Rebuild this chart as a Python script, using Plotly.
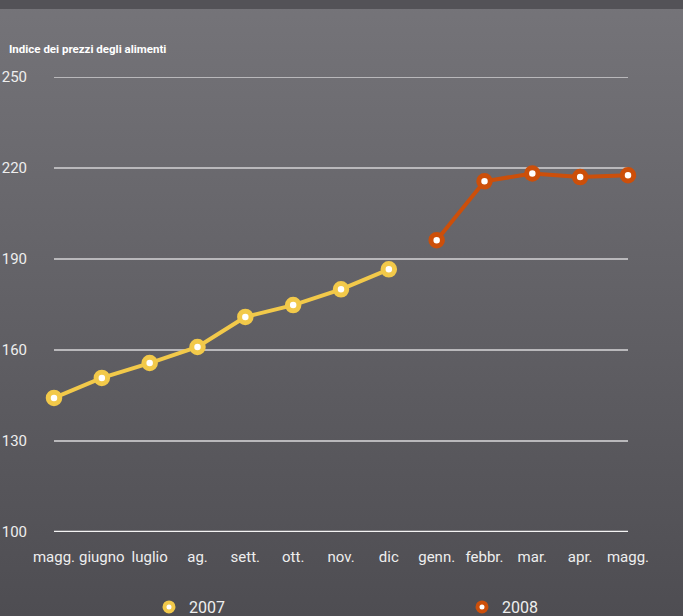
import base64
import plotly.graph_objects as go

months = ["magg.", "giugno", "luglio", "ag.", "sett.", "ott.", "nov.", "dic",
          "genn.", "febbr.", "mar.", "apr.", "magg."]
idx_2007 = [0, 1, 2, 3, 4, 5, 6, 7]
val_2007 = [144.2, 150.8, 155.7, 161.0, 170.9, 174.8, 180.0, 186.6]
idx_2008 = [8, 9, 10, 11, 12]
val_2008 = [196.2, 215.6, 218.2, 217.0, 217.6]
y_ticks = [100, 130, 160, 190, 220, 250]

YELLOW = "#f2c94a"
ORANGE = "#cc4f0a"
FONT = "Roboto, sans-serif"

W, H = 683, 616
L, R, T, B = 54, 55, 77, 84
pw, ph = W - L - R, H - T - B

svg = f'''<svg xmlns="http://www.w3.org/2000/svg" width="{W}" height="{H}" preserveAspectRatio="none">
<defs><linearGradient id="g" x1="0" y1="0" x2="0" y2="1">
<stop offset="0" stop-color="#757479"/><stop offset="1" stop-color="#4e4d52"/></linearGradient></defs>
<rect x="0" y="0" width="{W}" height="{H}" fill="url(#g)"/>
<rect x="0" y="0" width="{W}" height="9" fill="#535257"/>
</svg>'''
src = "data:image/svg+xml;base64," + base64.b64encode(svg.encode()).decode()

fig = go.Figure()

def line_trace(x, y, color, name):
    return go.Scatter(
        x=x, y=y, mode="lines+markers", name=name, showlegend=False,
        line=dict(color=color, width=4),
        marker=dict(size=11.5, color="white", line=dict(color=color, width=5)),
        cliponaxis=False,
    )

fig.add_trace(line_trace(idx_2007, val_2007, YELLOW, "2007"))
fig.add_trace(line_trace(idx_2008, val_2008, ORANGE, "2008"))
for name, color, lg in (("2007", YELLOW, "legend"), ("2008", ORANGE, "legend2")):
    fig.add_trace(go.Scatter(
        x=[None], y=[None], mode="markers", name=name, legend=lg,
        marker=dict(size=9, color="white", line=dict(color=color, width=4)),
    ))

grid_shapes = [dict(type="line", xref="paper", yref="y", x0=0, x1=1, y0=v, y1=v,
                    layer="below",
                    line=dict(color="#f4f4f4" if v == 100 else "#b9b8bb",
                              width=2.5 if v == 100 else 2))
               for v in (100, 250)]

def legend_at(xpx):
    return dict(orientation="h", xref="container", yref="container",
                x=xpx / W, xanchor="left", y=1 - 607 / H, yanchor="middle",
                bgcolor="rgba(0,0,0,0)",
                font=dict(size=16, color="#eeeeee", family=FONT))

fig.update_layout(
    width=W, height=H,
    margin=dict(l=L, r=R, t=T, b=B, autoexpand=False),
    paper_bgcolor="#5f5e63", plot_bgcolor="rgba(0,0,0,0)",
    font=dict(family=FONT, color="#eeeeee", size=15),
    images=[dict(source=src, xref="paper", yref="paper",
                 x=-L / pw, y=1 + T / ph, sizex=W / pw, sizey=H / ph,
                 xanchor="left", yanchor="top", sizing="stretch", layer="below")],
    xaxis=dict(range=[0, 12], tickmode="array", tickvals=list(range(13)),
               ticktext=months, showgrid=False, zeroline=False, showline=False,
               automargin=False,
               ticklabelstandoff=14, tickfont=dict(size=15, color="#eeeeee"),
               fixedrange=True),
    yaxis=dict(range=[100, 250], tickmode="array", tickvals=y_ticks,
               showgrid=True, gridcolor="#b9b8bb", gridwidth=2, zeroline=False,
               showline=False, ticklabelstandoff=26, automargin=False,
               tickfont=dict(size=15, color="#eeeeee")),
    shapes=grid_shapes,
    annotations=[dict(text="<b>Indice dei prezzi degli alimenti</b>", xref="paper",
                      yref="paper", x=-L / pw + 7 / pw, y=1 + (T - 49) / ph,
                      xanchor="left", yanchor="middle", showarrow=False,
                      font=dict(size=11.5, color="#ffffff", family=FONT))],
    legend=legend_at(149),
    legend2=legend_at(462),
)

fig.write_html("out.html")
